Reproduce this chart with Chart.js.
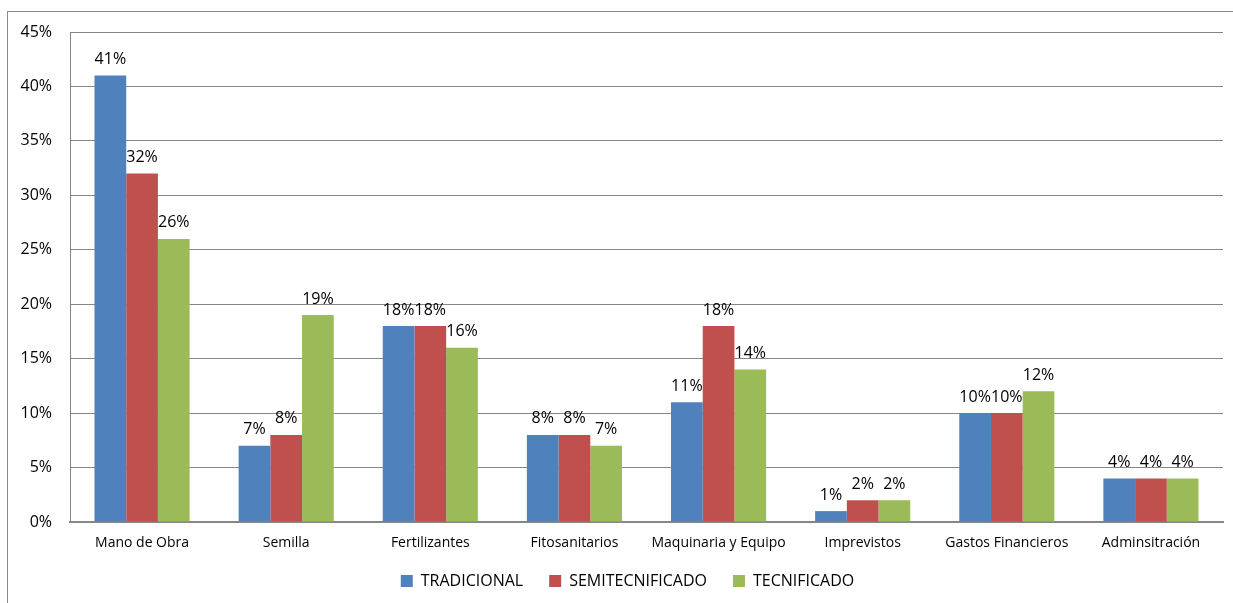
<!DOCTYPE html>
<html>
<head>
<meta charset="utf-8">
<script src="https://cdn.jsdelivr.net/npm/chart.js@4/dist/chart.umd.min.js"></script>
<style>
  html, body { margin: 0; padding: 0; background: #fff; }
  #wrap { width: 1233px; height: 603px; position: relative; }
</style>
</head>
<body>
<div id="wrap"><canvas id="c" width="1233" height="603"></canvas></div>
<script>
const categories = ["Mano de Obra", "Semilla", "Fertilizantes", "Fitosanitarios", "Maquinaria y Equipo", "Imprevistos", "Gastos Financieros", "Adminsitración"];
const seriesNames = ["TRADICIONAL", "SEMITECNIFICADO", "TECNIFICADO"];
const tradicional = [41, 7, 18, 8, 11, 1, 10, 4];
const semitecnificado = [32, 8, 18, 8, 18, 2, 10, 4];
const tecnificado = [26, 19, 16, 7, 14, 2, 12, 4];
const yMax = 45;
const yStep = 5;

const FONT = "'Open Sans', sans-serif";

const frame = {
  id: 'frame',
  beforeDraw(chart) {
    const ctx = chart.ctx;
    ctx.save();
    ctx.strokeStyle = '#8a8a8a';
    ctx.lineWidth = 1;
    ctx.strokeRect(7.5, 11.5, 1400, 800);
    ctx.restore();
  }
};

const legendShift = {
  id: 'legendShift',
  afterLayout(chart) {
    const lg = chart.legend;
    if (!lg) return;
    lg.left += 16; lg.right += 16;
    lg.top -= 15; lg.bottom -= 15;
  }
};

const valueLabels = {
  id: 'valueLabels',
  afterDatasetsDraw(chart) {
    const ctx = chart.ctx;
    ctx.save();
    ctx.font = "16px " + FONT;
    ctx.fillStyle = '#000';
    ctx.textAlign = 'center';
    ctx.textBaseline = 'bottom';
    chart.data.datasets.forEach((ds, i) => {
      const meta = chart.getDatasetMeta(i);
      meta.data.forEach((bar, j) => {
        ctx.fillText(ds.data[j] + '%', bar.x, bar.y - 8);
      });
    });
    ctx.restore();
  }
};

new Chart(document.getElementById('c'), {
  type: 'bar',
  data: {
    labels: categories,
    datasets: [
      { label: seriesNames[0], data: tradicional, backgroundColor: '#4F81BD' },
      { label: seriesNames[1], data: semitecnificado, backgroundColor: '#C0504D' },
      { label: seriesNames[2], data: tecnificado, backgroundColor: '#9BBB59' }
    ]
  },
  options: {
    responsive: false,
    animation: false,
    devicePixelRatio: 1,
    layout: { padding: { left: 0, right: 10, top: 32, bottom: -11 } },
    datasets: { bar: { categoryPercentage: 0.66, barPercentage: 1.0 } },
    scales: {
      x: {
        grid: { display: false, drawTicks: false },
        border: { display: true, color: '#868686', width: 2 },
        ticks: { color: '#000', font: { family: FONT, size: 14 }, padding: 13, maxRotation: 0, autoSkip: false },
        afterFit(s) { s.height = 40; }
      },
      y: {
        min: 0, max: yMax,
        grid: { color: '#868686', lineWidth: 1, drawTicks: false },
        border: { display: true, color: '#868686', width: 1 },
        ticks: { stepSize: yStep, color: '#000', font: { family: FONT, size: 16 }, padding: 18, callback: v => v + '%' },
        afterFit(s) { s.width = 70; }
      }
    },
    plugins: {
      legend: {
        position: 'bottom',
        labels: { boxWidth: 12, boxHeight: 12, padding: 26, color: '#000', font: { family: FONT, size: 16 } }
      },
      tooltip: { enabled: false }
    }
  },
  plugins: [frame, legendShift, valueLabels]
});
</script>
</body>
</html>
